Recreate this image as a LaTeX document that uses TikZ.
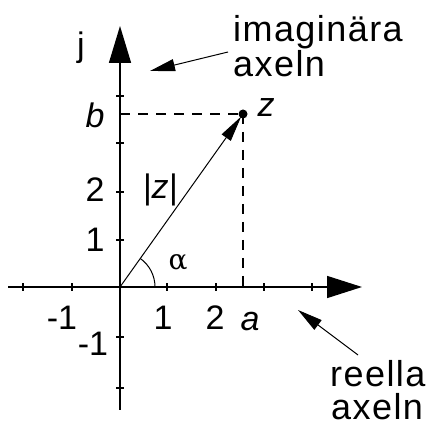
\documentclass[tikz,border=0pt]{standalone}
\usepackage{fontspec}
\setmainfont{Liberation Sans}
\newfontfamily\spacedsans[LetterSpace=4]{Liberation Sans}
\newfontfamily\greekserif{DejaVu Serif}
\usetikzlibrary{arrows.meta}
\tikzset{
  lbl/.style={font=\spacedsans\fontsize{36}{34}\selectfont, inner sep=0pt, anchor=base west},
  num/.style={font=\fontsize{34}{34}\selectfont, inner sep=0pt},
  var/.style={font=\fontsize{34}{34}\selectfont\itshape, inner sep=0pt},
  axisline/.style={line width=1.5pt},
  tickmark/.style={line width=1.2pt},
  dashline/.style={line width=1.2pt, dash pattern=on 10pt off 8pt},
  pointer/.style={line width=1pt, -{Triangle[length=25pt,width=12pt]}},
}
\begin{document}
\begin{tikzpicture}[x=1pt,y=1pt]
\useasboundingbox (0,0) rectangle (425,430);
% key points
\coordinate (O) at (120,143);
\coordinate (Z) at (243,316);
\coordinate (ytop) at (120,404);
\coordinate (ybot) at (120,20);
\coordinate (xleft) at (8,143);
\coordinate (xtip) at (362,143);
\coordinate (bpt) at (120,316);
\coordinate (apt) at (243,143);
% axes
\draw[axisline, -{Triangle[length=37pt,width=22pt]}] (ybot) -- (ytop);
\draw[axisline, -{Triangle[length=35pt,width=22pt]}] (xleft) -- (xtip);
% ticks on x axis
\foreach \tx in {23,72,167,216,264,312}
  \draw[tickmark] (\tx,139) -- (\tx,147);
% ticks on y axis
\foreach \ty in {334,287,238,190,93,42}
  \draw[tickmark] (116,\ty) -- (124,\ty);
% dashed projections
\draw[dashline] (bpt) -- (Z);
\draw[dashline] (Z) -- (apt);
% vector
\draw[line width=1pt, shorten >=3pt, -{Triangle[length=26pt,width=11pt]}] (O) -- (Z);
\fill (Z) circle (4.5pt);
% angle arc
\draw[line width=1pt] ([shift={(35,0)}]O) arc[start angle=0, end angle=54.6, radius=35];
% labels
\node[num] (lj) at (81,382) {j};
\node[var] (lb) at (95,315) {b};
\node[num] (ly2) at (95,240) {2};
\node[num] (ly1) at (95,190) {1};
\node[num] (lym1) at (93,86) {-1};
\node[num] (lxm1) at (62,112) {-1};
\node[num] (lx1) at (163,112) {1};
\node[num] (lx2) at (215,112) {2};
\node[var] (la) at (250,108) {a};
\node[inner sep=0pt, font=\greekserif\fontsize{28}{28}\selectfont] (lalpha) at (178,167) {α};
\node[var] (labs) at (160,240) {|z|};
\node[var] (lz) at (266,322) {z};
% annotations
\node[lbl] (im1) at (233,388) {imaginära};
\node[lbl] (im2) at (233,353) {axeln};
\node[lbl] (re1) at (330,43) {reella};
\node[lbl] (re2) at (331,10) {axeln};
\coordinate (imstart) at (228,378);
\coordinate (imtip) at (150,359);
\coordinate (restart) at (358,75);
\coordinate (retip) at (298,120);
\draw[pointer] (imstart) -- (imtip);
\draw[pointer] (restart) -- (retip);
\end{tikzpicture}
\end{document}
